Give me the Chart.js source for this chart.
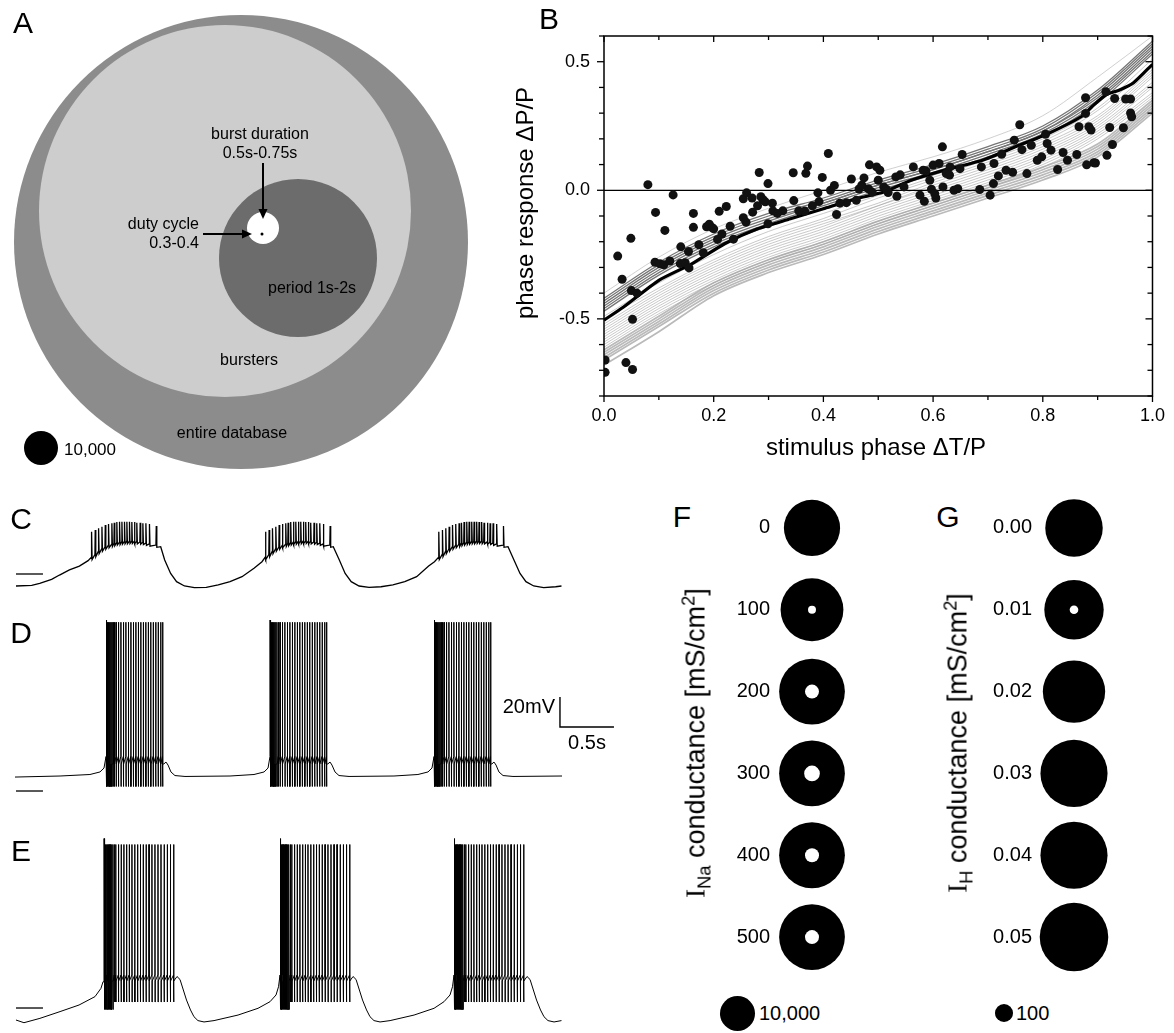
<!DOCTYPE html>
<html><head><meta charset="utf-8">
<script src="https://cdn.jsdelivr.net/npm/chart.js"></script>
<style>
html,body{margin:0;padding:0;background:#fff;}
body{width:1174px;height:1033px;position:relative;overflow:hidden;font-family:"Liberation Sans",Arial,Helvetica,sans-serif;color:#000;}
canvas{position:absolute;}
.t{position:absolute;white-space:nowrap;line-height:1;}
.t sub,.t sup{font-size:0.68em;line-height:0;}
.dot{position:absolute;border-radius:50%;background:#000;}
</style></head><body>
<script>
// ================= DATA =================
// Panel A: number of model versions in each nested class
const aSets   = ['entire database','bursters','period 1s-2s','burst duration 0.5s-0.75s','duty cycle 0.3-0.4'];
const aCounts = [1783000, 1197000, 216000, 8860, 78];
const aLegendCount = 10000;

// Panel B: phase response data
const bPhaseX = [0.080,0.126,0.094,0.111,0.049,0.025,0.033,0.050,0.052,0.002,0.002,0.040,0.052,0.093,0.102,0.109,0.140,0.154,0.139,0.148,
0.155,0.163,0.163,0.173,0.181,0.187,0.192,0.197,0.207,0.210,0.223,0.230,0.236,0.254,0.260,0.254,0.259,0.271,0.283,0.286,
0.290,0.294,0.299,0.299,0.307,0.308,0.326,0.345,0.346,0.368,0.371,0.366,0.390,0.392,0.398,0.409,0.413,0.420,0.424,0.442,
0.451,0.460,0.474,0.482,0.484,0.489,0.497,0.500,0.510,0.518,0.532,0.534,0.547,0.564,0.576,0.584,0.587,0.594,0.597,0.605,
0.611,0.617,0.624,0.631,0.638,0.649,0.653,0.645,0.685,0.688,0.704,0.710,0.711,0.719,0.725,0.733,0.745,0.748,0.758,0.762,
0.771,0.779,0.790,0.798,0.805,0.808,0.815,0.827,0.837,0.845,0.862,0.866,0.878,0.878,0.884,0.896,0.880,0.915,0.917,0.922,
0.927,0.931,0.947,0.951,0.960,0.960,0.962,0.582,0.600,0.630,0.603,0.618,0.430,0.465,0.470,0.515,0.503,0.540,0.888,0.893,
0.270,0.280,0.316,0.355,0.380,0.200,0.215,0.120,0.060];
const bPhaseY = [0.022,-0.018,-0.086,-0.156,-0.187,-0.256,-0.346,-0.390,-0.502,-0.660,-0.708,-0.670,-0.697,-0.280,-0.286,-0.290,-0.220,-0.238,-0.285,-0.282,
-0.302,-0.090,-0.144,-0.212,-0.243,-0.142,-0.132,-0.145,-0.191,-0.082,-0.063,-0.140,-0.190,-0.033,-0.010,-0.107,-0.124,-0.085,0.069,-0.025,
-0.037,-0.045,0.026,-0.130,-0.050,-0.080,-0.080,0.068,-0.040,0.066,0.094,-0.081,-0.010,-0.044,0.050,0.143,0.000,0.019,-0.094,-0.048,
0.044,-0.039,0.048,0.006,0.099,-0.008,0.091,0.039,0.013,-0.009,0.052,-0.023,0.013,0.091,-0.019,-0.043,0.075,0.039,0.004,-0.030,
0.104,0.169,0.065,0.091,0.000,0.084,0.139,0.006,0.003,0.091,-0.019,0.026,0.104,0.056,0.140,0.078,0.070,0.195,0.255,0.158,
0.065,0.175,0.117,0.130,0.218,0.182,0.156,0.081,0.147,0.117,0.139,0.247,0.299,0.360,0.247,0.106,0.099,0.383,0.136,0.244,
0.178,0.357,0.243,0.355,0.355,0.301,0.286,0.078,0.098,0.059,-0.013,0.013,-0.050,0.005,0.020,0.003,0.078,0.060,0.234,0.107,
-0.030,-0.060,-0.090,-0.080,-0.060,-0.150,-0.170,-0.275,-0.400];
// model phase response curves, sampled at bCurveX
const bCurveX = [0,0.1,0.2,0.3,0.4,0.5,0.6,0.7,0.8,0.9,1.0];
const bUpper = [
 [-0.40,-0.26,-0.15,-0.07, 0.00, 0.07, 0.13, 0.20, 0.29, 0.44, 0.60],
 [-0.42,-0.28,-0.17,-0.09,-0.03, 0.04, 0.10, 0.17, 0.25, 0.39, 0.58],
 [-0.43,-0.29,-0.18,-0.10,-0.04, 0.03, 0.09, 0.16, 0.24, 0.38, 0.57],
 [-0.44,-0.30,-0.19,-0.11,-0.05, 0.02, 0.08, 0.15, 0.23, 0.37, 0.56],
 [-0.45,-0.31,-0.20,-0.12,-0.05, 0.02, 0.08, 0.15, 0.23, 0.36, 0.55],
 [-0.46,-0.32,-0.21,-0.13,-0.06, 0.01, 0.07, 0.14, 0.22, 0.35, 0.54],
 [-0.47,-0.33,-0.22,-0.14,-0.07, 0.00, 0.06, 0.13, 0.21, 0.34, 0.53]];
const bMiddle = [
 [-0.49,-0.36,-0.25,-0.16,-0.09,-0.02, 0.05, 0.12, 0.20, 0.32, 0.51],
 [-0.50,-0.38,-0.27,-0.18,-0.11,-0.03, 0.04, 0.11, 0.19, 0.31, 0.49],
 [-0.52,-0.39,-0.28,-0.19,-0.12,-0.05, 0.03, 0.10, 0.18, 0.29, 0.47],
 [-0.53,-0.40,-0.29,-0.20,-0.13,-0.06, 0.02, 0.09, 0.17, 0.28, 0.46],
 [-0.54,-0.41,-0.30,-0.21,-0.14,-0.06, 0.01, 0.08, 0.16, 0.27, 0.45],
 [-0.55,-0.42,-0.31,-0.22,-0.15,-0.07, 0.00, 0.07, 0.15, 0.26, 0.44],
 [-0.56,-0.43,-0.32,-0.23,-0.16,-0.08,-0.01, 0.06, 0.14, 0.25, 0.42],
 [-0.57,-0.44,-0.33,-0.24,-0.17,-0.09,-0.02, 0.05, 0.13, 0.24, 0.41],
 [-0.58,-0.45,-0.34,-0.25,-0.18,-0.10,-0.03, 0.04, 0.12, 0.23, 0.40],
 [-0.59,-0.46,-0.35,-0.26,-0.19,-0.11,-0.04, 0.03, 0.11, 0.22, 0.38],
 [-0.60,-0.47,-0.36,-0.27,-0.20,-0.12,-0.05, 0.02, 0.10, 0.21, 0.37],
 [-0.61,-0.48,-0.37,-0.28,-0.21,-0.13,-0.06, 0.01, 0.09, 0.20, 0.36]];
const bLower = [
 [-0.62,-0.49,-0.36,-0.27,-0.20,-0.12,-0.05, 0.02, 0.09, 0.18, 0.35],
 [-0.63,-0.50,-0.37,-0.28,-0.21,-0.13,-0.06, 0.01, 0.08, 0.17, 0.34],
 [-0.64,-0.51,-0.38,-0.29,-0.22,-0.14,-0.07, 0.00, 0.07, 0.16, 0.33],
 [-0.65,-0.52,-0.39,-0.30,-0.23,-0.15,-0.08,-0.01, 0.06, 0.15, 0.32],
 [-0.66,-0.53,-0.40,-0.31,-0.24,-0.16,-0.09,-0.02, 0.05, 0.14, 0.31],
 [-0.68,-0.55,-0.41,-0.32,-0.25,-0.17,-0.10,-0.03, 0.04, 0.13, 0.30]];
const bMeanX = [0,0.035,0.1,0.16,0.22,0.28,0.34,0.4,0.46,0.51,0.56,0.62,0.69,0.75,0.81,0.87,0.89,0.915,0.94,0.965,1.0];
const bMeanY = [-0.505,-0.455,-0.35,-0.286,-0.208,-0.15,-0.111,-0.072,-0.033,-0.007,0.039,0.078,0.117,0.169,0.221,0.286,0.326,0.371,0.39,0.417,0.49];
const bXTicks = [0,0.1,0.2,0.3,0.4,0.5,0.6,0.7,0.8,0.9,1.0];
const bYTicks = [-0.8,-0.7,-0.6,-0.5,-0.4,-0.3,-0.2,-0.1,0,0.1,0.2,0.3,0.4,0.5,0.6];

// Panel C: biological recording (s, mV)
const cSlowT = [0.009,0.155,0.229,0.339,0.412,0.504,0.596,0.677, 1.349,1.386,1.441,1.496,1.569,1.661,1.771,1.882,1.991,2.102,2.213,2.287, 2.947,3.003,3.057,3.113,3.186,3.278,3.389,3.499,3.609,3.719,3.830,3.884, 4.565,4.620,4.676,4.731,4.803,4.895,5.006,5.060];
const cSlowV = [-58.0,-57.6,-56.2,-53.6,-50.7,-47.3,-44.7,-41.1, -31.8,-40.7,-49.6,-55.1,-58.0,-59.1,-58.9,-57.3,-55.1,-51.8,-46.2,-41.8, -31.8,-40.7,-49.6,-55.1,-58.0,-58.9,-58.5,-57.3,-55.1,-51.8,-44.7,-41.8, -31.8,-40.7,-49.6,-55.1,-58.0,-59.1,-58.5,-58.0];
const cBurstOnsets = [0.706, 2.316, 3.921];
const cSpikeMs   = [0,34,65,96,127,157,188,210,234,259,281,305,327,351,373,397,419,450,475,503,536,599];
const cSpikePeak = [-21.8,-20.7,-19.5,-18.5,-17.3,-16.7,-16.2,-15.8,-15.3,-15.1,-15.1,-15.1,-15.1,-15.1,-15.3,-15.3,-15.8,-15.8,-16.2,-16.2,-16.7,-18.0];
const cSpikeBase = [-38.9,-37.0,-35.0,-33.3,-32.0,-31.0,-30.2,-29.6,-29.2,-28.9,-28.6,-28.4,-28.3,-28.2,-28.2,-28.3,-28.4,-28.6,-28.9,-29.4,-30.0,-30.7];
const cRefLevel = -50;

// Panel D: model trace (s, mV)
const dSlowT = [0,0.417,0.694,0.787,0.824, 1.378,1.398,1.417,1.444,1.481,1.574,1.991,2.213,2.306,2.343, 2.896,2.917,2.935,2.963,3.000,3.093,3.509,3.731,3.824,3.861, 4.415,4.435,4.454,4.481,4.519,4.611,5.065];
const dSlowV = [-55.7,-55.0,-54.0,-52.3,-49.7, -47.0,-45.7,-47.7,-52.3,-54.7,-55.3,-55.0,-54.0,-52.3,-49.7, -47.0,-45.7,-47.7,-52.3,-54.7,-55.3,-55.0,-54.0,-52.3,-49.7, -47.0,-45.7,-47.7,-52.3,-54.7,-55.3,-55.0];
const dBurstOnsets = [0.843, 2.361, 3.880];
const dSpikeMs = [0,6,12,19,26,34,43,53,64,76,92,114,137,160,183,206,229,252,275,298,321,344,367,390,413,436,459,482,505,523];
const dSpike = {first:49, peak:47.5, trough:-62, threshold:-42, recovery:-47};
const dRefLevel = -65;
const scaleBar = {mV:20, s:0.5};

// Panel E: model trace (s, mV)
const eSlowT = [0.009,0.083,0.231,0.417,0.593,0.741,0.796,0.815, 1.500,1.528,1.588,1.625,1.657,1.694,1.750,1.843,2.065,2.250,2.361,2.417,2.440, 3.130,3.158,3.218,3.255,3.287,3.324,3.380,3.473,3.695,3.880,3.972,4.028,4.051, 4.741,4.769,4.829,4.866,4.898,4.935,4.991,5.060];
const eSlowV = [-63.0,-64.8,-61.9,-57.4,-53.0,-47.4,-41.9,-37.5, -34,-36,-49.7,-56.3,-60.8,-63.4,-64.3,-63.4,-59.7,-55.2,-50.8,-46.3,-40.8, -34,-36,-49.7,-56.3,-60.8,-63.4,-64.3,-63.4,-59.7,-55.2,-50.8,-46.3,-40.8, -34,-36,-49.7,-56.3,-60.8,-63.4,-64.3,-63.4];
const eBurstOnsets = [0.824, 2.454, 4.065];
const eSpikeMs = [0,5,10,15,21,27,33,40,47,55,63,72,82,94,108,133,158,183,208,233,258,284,310,336,362,389,416,443,471,499,527,556,585,614,644];
const eSpike = {first:58, peak:54, troughEarly:-56, trough:-51, threshold:-33, recovery:-37};
const eRefLevel = -55;

// Panel F: I_Na conductance
const fLabels = ['0','100','200','300','400','500'];
const fTotals = [25800,32200,35300,35300,35300,35300];
const fHoles  = [0,520,1600,2000,1600,1600];
const fLegendCount = 10000;
// Panel G: I_H conductance
const gLabels = ['0.00','0.01','0.02','0.03','0.04','0.05'];
const gTotals = [1020,1090,1200,1390,1390,1450];
const gHoles  = [0,23,0,0,0,0];
const gLegendCount = 100;

// ================= LAYOUT / STYLE =================
const FONT = '"Liberation Sans", Arial, Helvetica, sans-serif';
Chart.defaults.font.family = FONT;
Chart.defaults.color = '#000';
const A_CENTERS = [[241,242],[225,211],[298,258],[263,228],[262,234]];
const A_FILL = ['#8c8c8c','#cdcdcd','#6c6c6c','#ffffff','#000000'];
const A_ARROWS = [[[263,163],[263,219]], [[203,234],[252,234]]];
const A_PX = 17/Math.sqrt(aLegendCount);
const F_PX = 17.5/Math.sqrt(fLegendCount);
const G_PX = 9/Math.sqrt(gLegendCount);
const PX_PER_S = 108, PX_PER_MV = 1.5, TRACE_LEFT = 15, TRACE_W = 601;

function mk(left, top, w, h){
  const c=document.createElement('canvas'); c.width=w; c.height=h;
  c.style.left=left+'px'; c.style.top=top+'px'; c.style.width=w+'px'; c.style.height=h+'px';
  document.body.appendChild(c); return c;
}
function txt(html, x, y, size, align, rot, extra){
  const d=document.createElement('div'); d.className='t'; d.innerHTML=html;
  d.style.left=x+'px'; d.style.top=y+'px'; d.style.fontSize=size+'px';
  const tx = align==='left'?'0':align==='right'?'-100%':'-50%';
  d.style.transform='translate('+tx+',-50%)'+(rot?' rotate('+rot+'deg)':'');
  if(extra) d.style.cssText += extra;
  document.body.appendChild(d);
}
function dot(cx, cy, r){
  const d=document.createElement('div'); d.className='dot';
  d.style.left=(cx-r)+'px'; d.style.top=(cy-r)+'px'; d.style.width=(2*r)+'px'; d.style.height=(2*r)+'px';
  document.body.appendChild(d);
}
const base = {responsive:false, animation:false, events:[], layout:{padding:0, autoPadding:false},
  plugins:{legend:{display:false}, tooltip:{enabled:false}}};
function opts(extra){ return Object.assign({}, base, extra); }

// ================= PANEL A =================
const arrowPlugin = {id:'arrows', afterDatasetsDraw(chart){
  const {ctx, scales:{x,y}} = chart;
  ctx.save(); ctx.fillStyle='#000'; ctx.strokeStyle='#000'; ctx.lineWidth=2;
  A_ARROWS.forEach(([p0,p1])=>{
    const x0=x.getPixelForValue(p0[0]), y0=y.getPixelForValue(p0[1]);
    const x1=x.getPixelForValue(p1[0]), y1=y.getPixelForValue(p1[1]);
    const L=Math.hypot(x1-x0,y1-y0), ux=(x1-x0)/L, uy=(y1-y0)/L, hl=10, hw=4.5;
    ctx.beginPath(); ctx.moveTo(x0,y0); ctx.lineTo(x1-ux*hl, y1-uy*hl); ctx.stroke();
    ctx.beginPath(); ctx.moveTo(x1,y1);
    ctx.lineTo(x1-ux*hl-uy*hw, y1-uy*hl+ux*hw); ctx.lineTo(x1-ux*hl+uy*hw, y1-uy*hl-ux*hw);
    ctx.closePath(); ctx.fill();
  });
  ctx.restore();
}};
new Chart(mk(0,0,480,480), {
  type:'bubble',
  data:{datasets:[{label:'model classes',
    data:aCounts.map((c,i)=>({x:A_CENTERS[i][0], y:A_CENTERS[i][1], r:A_PX*Math.sqrt(c)})),
    backgroundColor:A_FILL, borderWidth:0, clip:false}]},
  options:opts({scales:{x:{type:'linear',min:0,max:480,display:false}, y:{type:'linear',min:0,max:480,reverse:true,display:false}}}),
  plugins:[arrowPlugin]
});
txt('A', 23, 23, 30);
txt('burst duration', 260, 134, 16);
txt('0.5s-0.75s', 260, 153, 16);
txt('duty cycle', 199, 224, 16, 'right');
txt('0.3-0.4', 199, 243, 16, 'right');
txt('period 1s-2s', 312, 288, 16);
txt('bursters', 249, 360, 16);
txt('entire database', 232, 433, 16);
dot(41, 448, A_PX*Math.sqrt(aLegendCount));
txt('10,000', 64, 449, 17, 'left');

// ================= PANEL B =================
const bFrame = {id:'bFrame', afterDatasetsDraw(chart){
  const {ctx, chartArea:a, scales:{x,y}} = chart;
  ctx.save(); ctx.strokeStyle='#000'; ctx.lineWidth=1.5;
  ctx.strokeRect(a.left, a.top, a.right-a.left, a.bottom-a.top);
  ctx.lineWidth=1.3;
  const seg=(x0,y0,x1,y1)=>{ctx.beginPath();ctx.moveTo(x0,y0);ctx.lineTo(x1,y1);ctx.stroke();};
  bXTicks.forEach(v=>{const p=x.getPixelForValue(v); const L=Math.round(v*10)%2===0?6:4;
    seg(p,a.bottom,p,a.bottom+L); seg(p,a.top,p,a.top+L);});
  bYTicks.forEach(v=>{const p=y.getPixelForValue(v); const L=Math.round(v*10)%5===0?7:5;
    seg(a.left-L,p,a.left,p); seg(a.right-L,p,a.right,p);});
  ctx.restore();
}};
const curve = (row, color, width) => ({data:bCurveX.map((x,i)=>({x, y:row[i]})), showLine:true, pointRadius:0,
  borderColor:color, borderWidth:width, tension:0.4, cubicInterpolationMode:'monotone', order:5});
const bDatasets = [];
bMiddle.forEach(r=>bDatasets.push(curve(r,'#a4a4a4',0.6)));
bLower.forEach(r=>bDatasets.push(curve(r,'#bababa',1.7)));
bUpper.forEach((r,k)=>bDatasets.push(curve(r, k===0?'#c4c4c4':'#767676', k===0?0.8:1.3)));
bDatasets.push({data:[{x:0,y:0},{x:1,y:0}], showLine:true, pointRadius:0, borderColor:'#000', borderWidth:1.3, order:2});
bDatasets.push({data:bMeanX.map((x,i)=>({x,y:bMeanY[i]})), showLine:true, pointRadius:0, borderColor:'#000', borderWidth:3.2, tension:0.2, order:1});
bDatasets.push({data:bPhaseX.map((x,i)=>({x,y:bPhaseY[i]})), pointRadius:4.5, backgroundColor:'#111', borderWidth:0, order:0});
new Chart(mk(500,0,674,480), {
  type:'scatter',
  data:{datasets:bDatasets},
  options:opts({layout:{padding:{top:36,right:20,left:0,bottom:0}, autoPadding:false},
    scales:{
      x:{type:'linear',min:0,max:1, grid:{display:false,drawTicks:false}, border:{display:false},
         afterBuildTicks(s){s.ticks=bXTicks.map(v=>({value:v}));},
         ticks:{font:{size:18}, padding:9, maxRotation:0, autoSkip:false, color:'#000',
                callback:v=>Math.round(v*10)%2===0?Number(v).toFixed(1):''},
         afterFit(s){s.height=84;}},
      y:{type:'linear',min:-0.8,max:0.6, grid:{display:false,drawTicks:false}, border:{display:false},
         afterBuildTicks(s){s.ticks=bYTicks.map(v=>({value:v}));},
         ticks:{font:{size:18}, padding:14, autoSkip:false, color:'#000',
                callback:v=>Math.round(v*10)%5===0?Number(v).toFixed(1):''},
         afterFit(s){s.width=104; s.paddingTop=0; s.paddingBottom=0;}}
    }}),
  plugins:[bFrame]
});
txt('B', 549, 19, 30);
txt('phase response &Delta;P/P', 525, 203, 24, 'center', -90);
txt('stimulus phase &Delta;T/P', 876, 447, 24);

// ================= PANELS C, D, E =================
function buildTrace(slowT, slowV, onsets, spikeMs, spikeShape){
  const pts = slowT.map((t,i)=>({x:t, y:slowV[i]}));
  onsets.forEach(t0=>spikeMs.forEach((ms,i)=>{
    spikeShape(i, ms).forEach(([dt,v])=>pts.push({x:t0+(ms+dt)/1000, y:v}));
  }));
  pts.sort((a,b)=>a.x-b.x);
  return pts;
}
const traceLine = (data, w) => ({data, showLine:true, pointRadius:0, borderColor:'#000', borderWidth:w||1.2, tension:0});
function traceChart(top, h, vTop, datasets){
  const tMax = TRACE_W/PX_PER_S, vMin = vTop - h/PX_PER_MV;
  return new Chart(mk(TRACE_LEFT, top, TRACE_W, h), {type:'scatter', data:{datasets},
    options:opts({scales:{x:{type:'linear',min:0,max:tMax,display:false}, y:{type:'linear',min:vMin,max:vTop,display:false}}})});
}
const refSeg = lvl => traceLine([{x:0.009,y:lvl},{x:0.259,y:lvl}], 1.3);

const cTrace = buildTrace(cSlowT, cSlowV, cBurstOnsets, cSpikeMs,
  i=>[[0,cSpikeBase[i]],[3,cSpikePeak[i]],[8,cSpikeBase[i]-1.5]]);
traceChart(500, 100, -0.667, [traceLine(cTrace,1.3), refSeg(cRefLevel)]);

const dTrace = buildTrace(dSlowT, dSlowV, dBurstOnsets, dSpikeMs,
  i=>[[0,dSpike.threshold],[0.8,i===0?dSpike.first:dSpike.peak],[2,dSpike.trough],[3.5,dSpike.recovery]]);
const barT = 5.046, barV = -22.3;
traceChart(610, 190, 55.67, [traceLine(dTrace,1.0), refSeg(dRefLevel),
  traceLine([{x:barT,y:barV+scaleBar.mV},{x:barT,y:barV},{x:barT+scaleBar.s,y:barV}],1.4)]);

const eTrace = buildTrace(eSlowT, eSlowV, eBurstOnsets, eSpikeMs,
  (i,ms)=>[[0,eSpike.threshold],[0.8,i===0?eSpike.first:eSpike.peak],[2,ms<90?eSpike.troughEarly:eSpike.trough],[3.5,eSpike.recovery]]);
traceChart(830, 200, 63.67, [traceLine(eTrace,1.0), refSeg(eRefLevel)]);

txt('C', 21, 519, 30);
txt('D', 21, 633, 30);
txt('E', 21, 851, 30);
txt('20mV', 555, 706, 20, 'right');
txt('0.5s', 587, 742, 20);

// ================= PANELS F, G =================
function conductanceChart(left, labels, totals, holes, pxPerSqrt){
  const pt = (v,i)=>({x:0, y:labels[i], r:pxPerSqrt*Math.sqrt(v)});
  new Chart(mk(left, 487, 149, 491), {
    type:'bubble',
    data:{datasets:[
      {data:holes.map(pt), backgroundColor:'#fff', borderWidth:0, order:0, clip:false},
      {data:totals.map(pt), backgroundColor:'#000', borderWidth:0, order:1, clip:false}]},
    options:opts({scales:{
      x:{type:'linear',min:-1,max:1,display:false},
      y:{type:'category', labels, offset:true, grid:{display:false,drawTicks:false}, border:{display:false},
         ticks:{font:{size:20}, padding:5, color:'#000'},
         afterFit(s){s.width=75; s.paddingTop=0; s.paddingBottom=0;}}}})
  });
}
conductanceChart(700, fLabels, fTotals, fHoles, F_PX);
conductanceChart(962, gLabels, gTotals, gHoles, G_PX);
txt('F', 682, 517, 30);
txt('G', 948, 517, 30);
txt('<span style="font-family:\'Liberation Serif\',serif">I</span><sub>Na</sub> conductance [mS/cm<sup>2</sup>]', 696, 743, 27, 'center', -90);
txt('<span style="font-family:\'Liberation Serif\',serif">I</span><sub>H</sub> conductance [mS/cm<sup>2</sup>]', 958, 743, 27, 'center', -90);
dot(737, 1013, F_PX*Math.sqrt(fLegendCount));
txt('10,000', 759, 1013, 20, 'left');
dot(1004, 1013, G_PX*Math.sqrt(gLegendCount));
txt('100', 1016, 1013, 20, 'left');
</script>
</body></html>
